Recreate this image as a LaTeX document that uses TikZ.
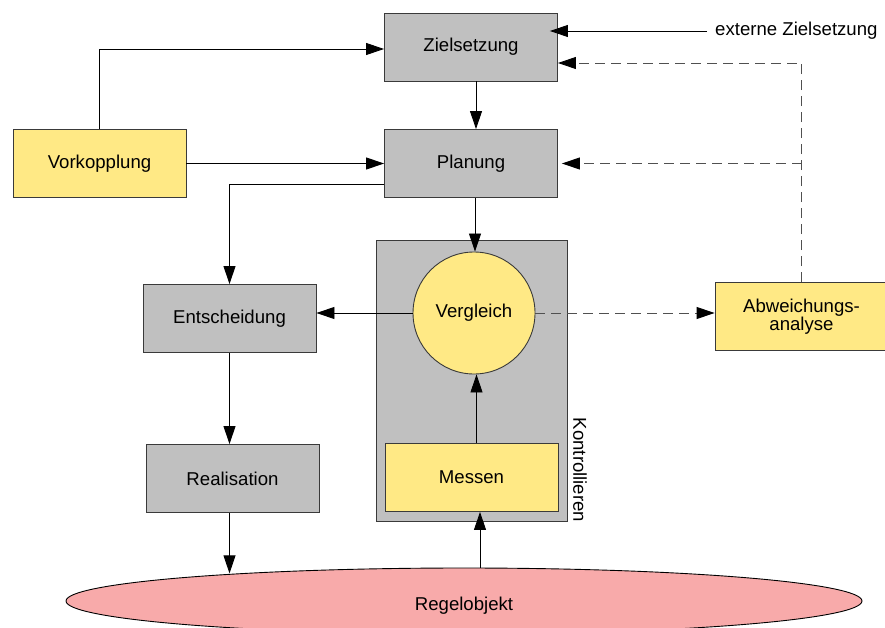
\documentclass[tikz,border=0pt]{standalone}
\usepackage{fontspec}
\setmainfont{Liberation Sans}
\usetikzlibrary{arrows.meta,shapes.geometric}
\definecolor{boxgray}{HTML}{C0C0C0}
\definecolor{noteyellow}{HTML}{FFE985}
\definecolor{objpink}{HTML}{F8AAAA}
\definecolor{edgegray}{HTML}{3A3A3A}
\definecolor{dashgray}{HTML}{505050}

\begin{document}
\begin{tikzpicture}[x=1pt,y=-1pt,
  font=\fontsize{18.6}{18.6}\selectfont,
  block/.style={draw=edgegray,line width=0.9pt,minimum width=173pt,minimum height=68pt,inner sep=0pt,align=center},
  graybox/.style={block,fill=boxgray},
  yellowbox/.style={block,fill=noteyellow},
  arr/.style={line width=0.9pt,-{Triangle[length=18pt,width=12pt,color=black,fill=black]}},
  dasharr/.style={arr,draw=dashgray,dash pattern=on 10pt off 6pt},
]
\clip (0,0) rectangle (885,628);

% main process chain
\node[graybox] (zs) at (471,47) {Zielsetzung};
\node[graybox] (pl) at (471,163.5) {Planung};
\node[yellowbox] (vk) at (99.5,163.5) {Vorkopplung};
\node[graybox] (ent) at (229.5,318.5) {Entscheidung};
\node[graybox] (re) at (232.5,478.5) {Realisation};

% control block
\node[draw=edgegray,fill=boxgray,line width=0.9pt,minimum width=191pt,minimum height=281pt,inner sep=0pt] (kt) at (471.5,380.5) {};
\node[rotate=-90,inner sep=0pt] (ktl) at (580,470) {Kontrollieren};
\node[circle,draw=edgegray,fill=noteyellow,line width=0.9pt,minimum size=122pt,inner sep=0pt] (vg) at (474,313) {Vergleich};
\node[yellowbox] (me) at (471.5,477.5) {Messen};

\node[yellowbox] (ab) at (801.5,316.5) {Abweichungs-\\analyse};

% controlled object
\node[ellipse,draw=black,fill=objpink,line width=0.9pt,minimum width=796pt,minimum height=66pt,inner sep=0pt] (rg) at (464,601) {};
\node (rgl) at (464,605.5) {Regelobjekt};

\node[anchor=west,inner sep=0pt] (ext) at (715,31) {externe Zielsetzung};

% solid connectors
\draw[arr] ([xshift=-8pt]ext.west) -- ([xshift=-8pt]ext.west -| zs.east);
\draw[arr] ([xshift=5pt]zs.south) -- ([xshift=5pt]pl.north);
\draw[arr] (vk.east) -- (pl.west);
\draw[arr] (vk.north) |- ([yshift=-2pt]zs.west);
\draw[arr] ([yshift=-20.5pt]pl.west) -| (ent.north);
\draw[arr] ([xshift=4pt]pl.south) -- ([xshift=4pt]pl.south |- vg.north);
\draw[arr] (vg.west) -- (vg.west -| ent.east);
\draw[arr] (ent.south) -- (ent.south |- re.north);
\draw[arr] ([xshift=-3pt]re.south) -- ([xshift=-3pt]re.south |- rg.173.5);
\draw[arr] ([xshift=5pt]me.north) -- ([xshift=5pt]me.north |- vg.south);
\draw[arr] ([xshift=8.5pt]me.south |- rg.north) -- ([xshift=8.5pt]me.south);

% dashed feedback connectors
\draw[dasharr] (vg.east) -- (vg.east -| ab.west);
\draw[dasharr] (ab.north) |- ([yshift=-16pt]zs.east);
\draw[dasharr] (ab.north |- pl.east) -- ([xshift=4pt]pl.east);
\end{tikzpicture}
\end{document}
